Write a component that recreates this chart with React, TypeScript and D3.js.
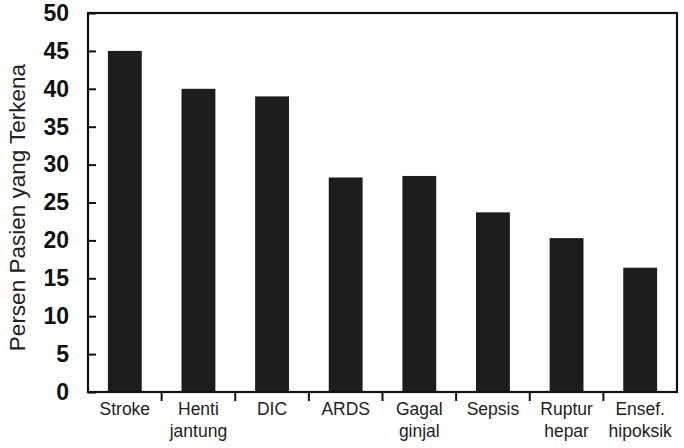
import React, { useEffect, useRef } from 'react';
import * as d3 from 'd3';

// categories (two-line labels split by \n)
const categories = [
	'Stroke',
	'Henti\njantung',
	'DIC',
	'ARDS',
	'Gagal\nginjal',
	'Sepsis',
	'Ruptur\nhepar',
	'Ensef.\nhipoksik',
];
const percentValues = [45, 40, 39, 28.3, 28.5, 23.7, 20.3, 16.4];
const yTicks = [0, 5, 10, 15, 20, 25, 30, 35, 40, 45, 50];
const yLabel = 'Persen Pasien yang Terkena';

const App: React.FC = () => {
	const ref = useRef<SVGSVGElement>(null);

	const width = 684;
	const height = 448;
	const margin = { top: 13, right: 7, bottom: 56, left: 88 };

	useEffect(() => {
		document.body.style.margin = '0';
		if (!ref.current) return;

		const svg = d3.select(ref.current);
		svg.selectAll('*').remove();

		const x = d3
			.scaleBand<string>()
			.domain(categories)
			.range([margin.left, width - margin.right])
			.paddingInner(0.54)
			.paddingOuter(0.27);

		const y = d3
			.scaleLinear()
			.domain([0, 50])
			.range([height - margin.bottom, margin.top]);

		const font = 'Liberation Sans, Arial, Helvetica, sans-serif';

		// --- Bars ---
		svg
			.append('g')
			.selectAll('rect')
			.data(categories)
			.enter()
			.append('rect')
			.attr('x', (d) => x(d) as number)
			.attr('y', (d, i) => y(percentValues[i]))
			.attr('width', x.bandwidth())
			.attr('height', (d, i) => y(0) - y(percentValues[i]))
			.attr('fill', '#1d1d1d');

		// --- Frame ---
		svg
			.append('rect')
			.attr('x', margin.left)
			.attr('y', margin.top)
			.attr('width', width - margin.left - margin.right)
			.attr('height', height - margin.top - margin.bottom)
			.attr('fill', 'none')
			.attr('stroke', '#111')
			.attr('stroke-width', 2.2);

		// --- Y axis (ticks point inside) ---
		const yAxis = svg
			.append('g')
			.attr('transform', `translate(${margin.left},0)`)
			.call(
				d3
					.axisLeft(y)
					.tickValues(yTicks)
					.tickSize(-8)
					.tickPadding(19)
					.tickFormat(d3.format('d')),
			);
		yAxis.select('.domain').remove();
		yAxis.selectAll('line').attr('stroke', '#111').attr('stroke-width', 2);
		yAxis
			.selectAll('text')
			.attr('fill', '#111')
			.style('font-family', font)
			.style('font-weight', 'bold')
			.style('font-size', '23px');

		// --- X axis: ticks between categories, pointing down ---
		const step = x.step();
		const boundaries = categories.slice(1).map((c) => (x(c) as number) - (step * x.paddingInner()) / 2);
		svg
			.append('g')
			.selectAll('line')
			.data(boundaries)
			.enter()
			.append('line')
			.attr('x1', (d) => d)
			.attr('x2', (d) => d)
			.attr('y1', y(0))
			.attr('y2', y(0) + 9)
			.attr('stroke', '#111')
			.attr('stroke-width', 2);

		const labels = svg
			.append('g')
			.selectAll('text')
			.data(categories)
			.enter()
			.append('text')
			.attr('text-anchor', 'middle')
			.attr('fill', '#222')
			.style('font-family', font)
			.style('font-size', '17.5px');

		labels
			.selectAll('tspan')
			.data((d) => d.split('\n').map((t) => ({ t, c: d })))
			.enter()
			.append('tspan')
			.attr('x', (d) => (x(d.c) as number) + x.bandwidth() / 2)
			.attr('y', (d, i) => y(0) + 23 + i * 22)
			.text((d) => d.t);

		// --- Y axis title ---
		svg
			.append('text')
			.attr('transform', `translate(25, ${(margin.top + height - margin.bottom) / 2 + 5}) rotate(-90)`)
			.attr('text-anchor', 'middle')
			.attr('fill', '#222')
			.style('font-family', font)
			.style('font-size', '22.5px')
			.text(yLabel);
	}, []);

	return (
		<svg
			ref={ref}
			width={width}
			height={height}
			style={{ display: 'block', background: '#fff' }}></svg>
	);
};

export default App;
